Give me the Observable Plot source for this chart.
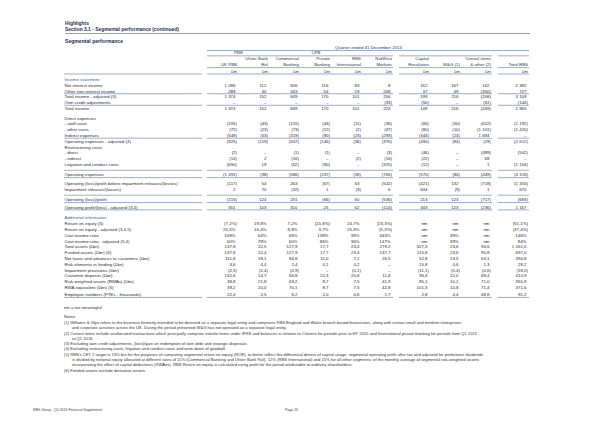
<!DOCTYPE html>
<html>
<head>
<meta charset="utf-8">
<script src="https://cdn.jsdelivr.net/npm/d3@7"></script>
<script src="https://cdn.jsdelivr.net/npm/@observablehq/plot@0.6"></script>
<style>
html,body{margin:0;padding:0;background:#fff;width:600px;height:424px;overflow:hidden}
#page{position:relative;width:600px;height:424px;font-family:"Liberation Sans",Arial,sans-serif;color:#333}
.t{position:absolute;white-space:nowrap;line-height:1}
.h{font-weight:bold;color:#1c2d52;font-size:4.9px}
.n{font-size:4.15px;color:#333}
#chart{position:absolute;left:0;top:0}
#secline{position:absolute;left:65px;top:33px;width:465px;height:0;border-top:0.8px solid #8ea3c0}
</style>
</head>
<body>
<div id="page">
  <div id="chart"></div>
  <div class="t h" style="left:65px;top:21.5px">Highlights</div>
  <div class="t h" style="left:65px;top:28px">Section 3.1 - Segmental performance (continued)</div>
  <div id="secline"></div>
  <div class="t h" style="left:65px;top:39px;font-size:5.1px">Segmental performance</div>
  <div id="notes"></div>
  <div class="t" style="left:33px;top:409.3px;font-size:3.5px;color:#444">RBS Group - Q4 2016 Financial Supplement</div>
  <div class="t" style="left:285px;top:409.3px;font-size:3.5px;color:#444">Page 20</div>
</div>
<script>
// ---------- data ----------
const columns = ["UK PBB","Ulster Bank RoI","Commercial Banking","Private Banking","RBS International","NatWest Markets","Capital Resolution","W&G (1)","Central items & other (2)","Total RBS"];
const columnGroup = [0,0,0,0,0,0,1,1,1,2];
const headerLine1 = ["","Ulster Bank","Commercial","Private","RBS","NatWest","Capital","","Central items",""];
const headerLine2 = ["UK PBB","RoI","Banking","Banking","International","Markets","Resolution","W&G (1)","& other (2)","Total RBS"];
const divisions = ["PBB","CPB"];
const divisionColumns = [[0,1],[2,3,4]];
const periodTitle = "Quarter ended 31 December 2014";
const unitLabel = "£m";

const rowLabels = [
  "Income statement","Net interest income","Other non-interest income","Total income - adjusted (3)","Own credit adjustments","Total income",
  "Direct expenses","- staff costs","- other costs","Indirect expenses","Operating expenses - adjusted (4)","Restructuring costs","- direct","- indirect","Litigation and conduct costs",
  "Operating expenses",
  "Operating (loss)/profit before impairment releases/(losses)","Impairment releases/(losses)",
  "Operating (loss)/profit",
  "Operating profit/(loss) - adjusted (3,4)",
  "Additional information","Return on equity (5)","Return on equity - adjusted (3,4,5)","Cost:income ratio","Cost:income ratio - adjusted (3,4)",
  "Total assets (£bn)","Funded assets (£bn) (6)","Net loans and advances to customers (£bn)","Risk elements in lending (£bn)","Impairment provisions (£bn)",
  "Customer deposits (£bn)","Risk-weighted assets (RWAs) (£bn)","RWA equivalent (£bn) (5)","Employee numbers (FTEs - thousands)"
];
const sectionTitles = ["Income statement","Additional information"];

const cellValues = [
  null,
  ["1 086","112","506","116","83","8","162","167","142","2 382"],
  ["288","40","343","54","18","248","37","49","(350)","727"],
  ["1 374","152","849","170","101","256","199","216","(208)","3 109"],
  ["–","–","–","–","–","(33)","(50)","–","(61)","(144)"],
  ["1 374","152","849","170","101","223","149","216","(269)","2 965"],
  null,
  ["(205)","(43)","(115)","(44)","(11)","(36)","(66)","(50)","(622)","(1 192)"],
  ["(72)","(23)","(73)","(12)","(2)","(47)","(80)","(10)","(1 101)","(1 420)"],
  ["(548)","(53)","(319)","(90)","(23)","(293)","(344)","(24)","1 694","–"],
  ["(825)","(119)","(507)","(146)","(36)","(376)","(490)","(84)","(29)","(2 612)"],
  null,
  ["(2)","–","(1)","(1)","–","(3)","(46)","–","(489)","(542)"],
  ["(14)","2","(16)","–","(2)","(16)","(22)","–","68","–"],
  ["(650)","19","(62)","(90)","–","(370)","(12)","–","1","(1 164)"],
  ["(1 491)","(98)","(586)","(237)","(38)","(765)","(570)","(84)","(449)","(4 318)"],
  ["(117)","54","263","(67)","63","(542)","(421)","132","(718)","(1 353)"],
  ["2","70","(32)","1","(3)","6","634","(9)","1","670"],
  ["(115)","124","231","(66)","60","(536)","213","123","(717)","(683)"],
  ["551","103","310","25","62","(114)","343","123","(236)","1 167"],
  null,
  ["(7,2%)","19,8%","7,2%","(15,8%)","24,7%","(23,3%)","nm","nm","nm","(51,1%)"],
  ["25,5%","16,4%","8,9%","3,7%","25,8%","(5,3%)","nm","nm","nm","(37,4%)"],
  ["109%","64%","69%","139%","38%","343%","nm","39%","nm","146%"],
  ["60%","78%","60%","86%","36%","147%","nm","39%","nm","84%"],
  ["137,8","22,5","127,9","17,7","23,4","279,2","327,3","23,6","94,6","1 051,0"],
  ["137,8","22,4","127,9","17,7","23,4","137,7","115,8","23,6","90,8","697,0"],
  ["111,8","18,1","84,8","11,0","7,2","26,5","52,8","19,5","63,1","394,8"],
  ["3,6","4,4","2,4","0,1","0,2","–","15,8","0,6","1,3","28,2"],
  ["(2,5)","(2,4)","(0,9)","–","(0,1)","–","(11,1)","(0,4)","(0,6)","(18,0)"],
  ["132,6","14,7","84,8","22,3","20,8","11,8","36,4","22,0","69,4","414,9"],
  ["38,8","21,8","63,2","8,7","7,5","41,9","85,1","10,1","71,0","355,9"],
  ["39,2","20,0","70,1","8,7","7,5","42,8","101,3","10,8","71,4","371,6"],
  ["22,4","2,5","6,2","2,0","0,6","1,7","2,8","4,4","48,8","91,2"]
];

// rules drawn under (bottom) or above (top) these rows
const rulesBelow = ["Other non-interest income","Own credit adjustments","Indirect expenses","Operating expenses","Operating (loss)/profit","Operating profit/(loss) - adjusted (3,4)","Employee numbers (FTEs - thousands)"];
const rulesAbove = ["Operating expenses","Operating (loss)/profit"];

const notes = [
  ["nm = not meaningful", false],
  ["Notes:", false],
  ["(1) Williams & Glyn refers to the business formerly intended to be divested as a separate legal entity and comprises RBS England and Wales branch-based businesses, along with certain small and medium enterprises", false],
  ["and corporate activities across the UK. During the period presented W&G has not operated as a separate legal entity.", true],
  ["(2) Central items include unallocated transactions which principally comprise volatile items under IFRS and balances in relation to Citizens for periods prior to HY 2015 and International private banking for periods from Q1 2015", false],
  ["to Q1 2016.", true],
  ["(3) Excluding own credit adjustments, (loss)/gain on redemption of own debt and strategic disposals.", false],
  ["(4) Excluding restructuring costs, litigation and conduct costs and write down of goodwill.", false],
  ["(5) RBS's CET 1 target is 13% but for the purposes of computing segmental return on equity (ROE), to better reflect the differential drivers of capital usage, segmental operating profit after tax and adjusted for preference dividends", false],
  ["is divided by notional equity allocated at different rates of 11% (Commercial Banking and Ulster Bank RoI), 12% (RBS International) and 15% for all other segments, of the monthly average of segmental risk-weighted assets", true],
  ["incorporating the effect of capital deductions (RWAes). RBS Return on equity is calculated using profit for the period attributable to ordinary shareholders.", true],
  ["(6) Funded assets exclude derivative assets.", false]
];

// ---------- layout (table geometry, in column / row units) ----------
const colW = 31;                 // px per value column
const labelU = 138 / colW;       // label column width in column units
const labelGapU = 5 / colW;
const groupGapU = 6 / colW;
const colLeft = columns.map((c, i) => columnGroup[i] * groupGapU + i);
const colRight = colLeft.map(v => v + 1);
const groupExtent = [0,1,2].map(g => {
  const idx = columns.map((c,i)=>i).filter(i => columnGroup[i] === g);
  return [colLeft[idx[0]], colRight[idx[idx.length-1]]];
});
const labelExtent = [-labelGapU - labelU, -labelGapU];
const xMin = labelExtent[0], xMax = colRight[colRight.length - 1];

const rowPx = 5.8;
const gapAfter = {"Total income":0.67,"Litigation and conduct costs":0.8,"Operating expenses":0.45,"Impairment releases/(losses)":0.85,"Operating (loss)/profit":0.26,"Operating profit/(loss) - adjusted (3,4)":0.85,"RWA equivalent (£bn) (5)":0.25};
let acc = 0;
const rowSlot = new Map();
rowLabels.forEach((r) => { rowSlot.set(r, acc); acc += 1 + (gapAfter[r] || 0); });
const lastSlot = rowSlot.get(rowLabels[rowLabels.length - 1]);
const head = {period:-5.45, division:-4.6, h1:-3.6, h2:-2.5, unit:-1.38, line0:-5.0, line1:-4.08, line2:-2.05, line3:-0.95};
const yTop = -6, firstRowPx = 79;

// ---------- derived tables ----------
const segs = [labelExtent, ...groupExtent];
const valueCells = [];
rowLabels.forEach((r, ri) => {
  const vals = cellValues[ri];
  if (!vals) return;
  vals.forEach((v, ci) => valueCells.push({row: r, col: ci, value: v, paren: v.endsWith(")")}));
});
const ruleRows = [];
for (const r of rulesBelow) for (const s of segs) ruleRows.push({y: rowSlot.get(r) + 0.45, x1: s[0], x2: s[1]});
for (const r of rulesAbove) for (const s of segs) ruleRows.push({y: rowSlot.get(r) - 0.82, x1: s[0], x2: s[1]});
// header rules
const headRules = [
  {y: head.line0, x1: groupExtent[0][0], x2: groupExtent[2][1]},
  ...groupExtent.map(g => ({y: head.line1, x1: g[0], x2: g[1]})),
  ...groupExtent.map(g => ({y: head.line2, x1: g[0], x2: g[1]})),
  ...segs.map(g => ({y: head.line3, x1: g[0], x2: g[1]}))
];
const headerCells = columns.map((c, i) => ({i, l1: headerLine1[i], l2: headerLine2[i]}));
const divCells = divisions.map((d, k) => ({d, x: (colLeft[divisionColumns[k][0]] + colRight[divisionColumns[k][divisionColumns[k].length-1]]) / 2}));

const textCol = "#2a2a2a", headCol = "#24375e", lineCol = "#8ea6c6";

const chart = Plot.plot({
  width: 600, height: 424, margin: 0,
  style: {fontFamily: "'Liberation Sans', Arial, sans-serif", fontSize: "4.4px", background: "transparent"},
  x: {type: "linear", domain: [xMin, xMax], range: [64, 529], axis: null},
  y: {type: "linear", domain: [yTop, lastSlot], range: [firstRowPx + yTop * rowPx, firstRowPx + lastSlot * rowPx], axis: null},
  marks: [
    Plot.ruleY(ruleRows, {y: "y", x1: "x1", x2: "x2", stroke: lineCol, strokeWidth: 0.9}),
    Plot.ruleY(headRules, {y: "y", x1: "x1", x2: "x2", stroke: lineCol, strokeWidth: 0.9}),
    Plot.text([periodTitle], {x: () => (groupExtent[0][0] + groupExtent[2][1]) / 2, y: () => head.period, text: d => d, fill: headCol, fontSize: 4.4}),
    Plot.text(divCells, {x: "x", y: () => head.division, text: "d", fill: headCol, fontSize: 4.4}),
    Plot.text(headerCells.filter(d => d.l1), {x: d => colRight[d.i], y: () => head.h1, text: "l1", textAnchor: "end", dx: -1.5, fill: headCol, fontSize: 4.4}),
    Plot.text(headerCells, {x: d => colRight[d.i], y: () => head.h2, text: "l2", textAnchor: "end", dx: -1.5, fill: headCol, fontSize: 4.4}),
    Plot.text(headerCells, {x: d => colRight[d.i], y: () => head.unit, text: () => unitLabel, textAnchor: "end", dx: -1.5, fill: headCol, fontSize: 4.4}),
    Plot.text(rowLabels, {x: () => labelExtent[0], y: d => rowSlot.get(d), text: d => d, textAnchor: "start",
      fill: d => sectionTitles.includes(d) ? "#3d5f95" : textCol, fontSize: 4.4}),
    Plot.text(valueCells.filter(d => d.paren), {x: d => colRight[d.col], y: d => rowSlot.get(d.row), text: "value", textAnchor: "end", dx: -1.5, fill: textCol, fontSize: 4.4}),
    Plot.text(valueCells.filter(d => !d.paren), {x: d => colRight[d.col], y: d => rowSlot.get(d.row), text: "value", textAnchor: "end", dx: -3, fill: textCol, fontSize: 4.4})
  ]
});
document.getElementById("chart").appendChild(chart);

// notes
const notesEl = document.getElementById("notes");
const noteTops = [306, 314.7];
notes.forEach(([txt, indent], k) => {
  const div = document.createElement("div");
  div.className = "t n";
  const cy = k < 2 ? [308, 316.7][k] : 323 + (k - 2) * 5.3;
  div.style.top = (cy - 2.1) + "px";
  div.style.left = (indent ? 72 : 64) + "px";
  div.textContent = txt;
  notesEl.appendChild(div);
});
</script>
</body>
</html>
